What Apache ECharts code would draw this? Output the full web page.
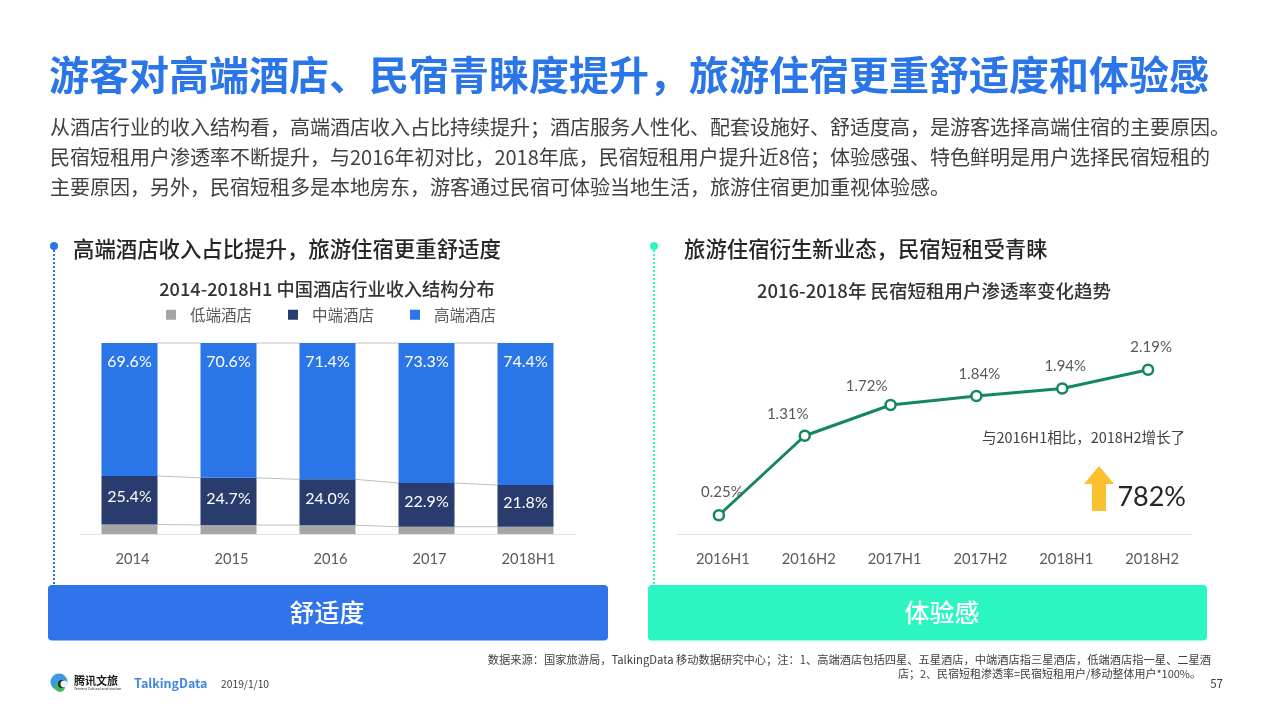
<!DOCTYPE html>
<html>
<head>
<meta charset="utf-8">
<style>
  html, body { margin: 0; padding: 0; background: #fff; }
  #main { width: 1268px; height: 714px; }
</style>
<script src="https://cdn.jsdelivr.net/npm/echarts@6/dist/echarts.min.js"></script>
</head>
<body>
<div id="main"></div>
<script>
// left chart
const years = ['2014', '2015', '2016', '2017', '2018H1'];
const lowShare = [5.0, 4.7, 4.6, 3.8, 3.8];
const midShare = [25.4, 24.7, 24.0, 22.9, 21.8];
const highShare = [69.6, 70.6, 71.4, 73.3, 74.4];
// right chart
const halves = ['2016H1', '2016H2', '2017H1', '2017H2', '2018H1', '2018H2'];
const penetration = [0.25, 1.31, 1.72, 1.84, 1.94, 2.19];
const labelNudge = [[3, 1], [-17, 2], [-24, 5], [3, 2], [3, 1], [3, 1]];

const FONT = '"Noto Sans CJK SC", sans-serif';
const LABEL_FONT = 'Lato, "Noto Sans CJK SC", sans-serif';
const BLUE = '#2A75E8';
const NAVY = '#2A3C6E';
const GREY = '#A6A6A6';
const GREEN = '#13875F';
const MINT = '#2BF5C0';
const BAR_W = 56;

function txt(x, y, text, size, color, weight, align, family) {
  return {
    type: 'text',
    style: {
      x: x, y: y, text: text, fill: color,
      font: (weight || 400) + ' ' + size + 'px ' + (family || FONT),
      textAlign: align || 'left', textVerticalAlign: 'middle'
    }
  };
}

function vline(x, y1, y2, color) {
  return {
    type: 'group',
    children: [
      { type: 'line', shape: { x1: x, y1: y1, x2: x, y2: y2 }, style: { stroke: color, lineWidth: 2, lineDash: [2, 2] } },
      { type: 'circle', shape: { cx: x, cy: y1, r: 4 }, style: { fill: color } }
    ]
  };
}

function box(x, w, color) {
  return { type: 'rect', shape: { x: x, y: 585, width: w, height: 55.5, r: 4 }, style: { fill: color } };
}

// thin lines joining the bar segments
function connector(tops) {
  return {
    type: 'custom',
    xAxisIndex: 0,
    yAxisIndex: 0,
    silent: true,
    z: 1,
    data: tops.map(function (v, i) { return [i, v]; }),
    renderItem: function (params, api) {
      const i = params.dataIndex;
      if (i >= tops.length - 1) return null;
      const a = api.coord([i, tops[i]]);
      const b = api.coord([i + 1, tops[i + 1]]);
      return {
        type: 'line',
        shape: { x1: a[0] + BAR_W / 2, y1: a[1], x2: b[0] - BAR_W / 2, y2: b[1] },
        style: { stroke: '#BFBFBF', lineWidth: 1 }
      };
    }
  };
}

function pct(p) {
  return p.value.toFixed(1) + '%';
}

const lowTops = lowShare.slice();
const midTops = lowShare.map(function (v, i) { return v + midShare[i]; });
const allTops = years.map(function () { return 100; });

const chart = echarts.init(document.getElementById('main'));
chart.setOption({
  animation: false,
  backgroundColor: '#fff',
  textStyle: { fontFamily: FONT },
  legend: {
    data: ['低端酒店', '中端酒店', '高端酒店'],
    left: 161,
    top: 302,
    itemWidth: 10,
    itemHeight: 10,
    itemGap: 36,
    icon: 'rect',
    textStyle: { fontSize: 15.5, color: '#595959', fontFamily: FONT, padding: [0, 0, 0, 9] }
  },
  grid: [
    { left: 80, right: 1268 - 575, top: 343, height: 191 },
    { left: 676, right: 1268 - 1191, top: 346.5, height: 187.5 }
  ],
  xAxis: [
    {
      type: 'category', gridIndex: 0, data: years,
      axisTick: { show: false },
      axisLine: { lineStyle: { color: '#E3E3E3' } },
      axisLabel: { color: '#595959', fontSize: 14.7, margin: 18, fontFamily: LABEL_FONT, padding: [0, 0, 0, 6] }
    },
    {
      type: 'category', gridIndex: 1, data: halves,
      axisTick: { show: false },
      axisLine: { lineStyle: { color: '#E3E3E3' } },
      axisLabel: { color: '#595959', fontSize: 14.7, margin: 18, fontFamily: LABEL_FONT, padding: [0, 0, 0, 8] }
    }
  ],
  yAxis: [
    { type: 'value', gridIndex: 0, min: 0, max: 100, show: false },
    { type: 'value', gridIndex: 1, min: 0, max: 2.5, show: false }
  ],
  series: [
    { name: '低端酒店', type: 'bar', stack: 'share', barWidth: BAR_W, data: lowShare, itemStyle: { color: GREY } },
    {
      name: '中端酒店', type: 'bar', stack: 'share', barWidth: BAR_W, data: midShare, itemStyle: { color: NAVY },
      label: { show: true, position: 'inside', offset: [0, -3], color: '#fff', fontSize: 16, fontFamily: LABEL_FONT, formatter: pct }
    },
    {
      name: '高端酒店', type: 'bar', stack: 'share', barWidth: BAR_W, data: highShare, itemStyle: { color: BLUE },
      label: { show: true, position: 'insideTop', distance: 11, color: '#fff', fontSize: 16, fontFamily: LABEL_FONT, formatter: pct }
    },
    connector(lowTops),
    connector(midTops),
    connector(allTops),
    {
      type: 'line', xAxisIndex: 1, yAxisIndex: 1, data: penetration.map(function (v, i) {
        return { value: v, label: { offset: labelNudge[i] } };
      }),
      symbol: 'circle', symbolSize: 10,
      lineStyle: { color: GREEN, width: 3 },
      itemStyle: { color: '#fff', borderColor: GREEN, borderWidth: 2.5 },
      label: { show: true, position: 'top', distance: 10, color: '#595959', fontSize: 15, fontFamily: LABEL_FONT, formatter: '{c}%' }
    }
  ],
  graphic: [
    txt(49, 75, '游客对高端酒店、民宿青睐度提升，旅游住宿更重舒适度和体验感', 40, BLUE, 700),
    txt(50, 127, '从酒店行业的收入结构看，高端酒店收入占比持续提升；酒店服务人性化、配套设施好、舒适度高，是游客选择高端住宿的主要原因。', 20, '#404040'),
    txt(50, 157, '民宿短租用户渗透率不断提升，与2016年初对比，2018年底，民宿短租用户提升近8倍；体验感强、特色鲜明是用户选择民宿短租的', 20, '#404040'),
    txt(50, 187, '主要原因，另外，民宿短租多是本地房东，游客通过民宿可体验当地生活，旅游住宿更加重视体验感。', 20, '#404040'),
    vline(54, 246, 585, BLUE),
    vline(654, 246, 585, MINT),
    txt(73, 249, '高端酒店收入占比提升，旅游住宿更重舒适度', 21.4, '#262626', 500),
    txt(684, 249, '旅游住宿衍生新业态，民宿短租受青睐', 21.4, '#262626', 500),
    txt(327, 289, '2014-2018H1 中国酒店行业收入结构分布', 18.2, '#333333', 500, 'center'),
    txt(934, 291, '2016-2018年 民宿短租用户渗透率变化趋势', 18.5, '#333333', 500, 'center'),
    txt(1185, 437, '与2016H1相比，2018H2增长了', 14.5, '#404040', 400, 'right'),
    txt(1186, 497, '782%', 27, '#262626', 400, 'right', LABEL_FONT),
    {
      type: 'polygon',
      shape: { points: [[1099, 466], [1114, 484], [1106, 484], [1106, 511], [1092, 511], [1092, 484], [1084, 484]] },
      style: { fill: '#FBC02D' }
    },
    box(48, 560, '#2F74EA'),
    box(648, 559, MINT),
    txt(327, 612, '舒适度', 25, '#FFFFFF', 500, 'center'),
    txt(942, 612, '体验感', 25, '#FFFFFF', 500, 'center'),
    txt(1211, 660, '数据来源：国家旅游局，TalkingData 移动数据研究中心；注：1、高端酒店包括四星、五星酒店，中端酒店指三星酒店，低端酒店指一星、二星酒', 11.25, '#404040', 400, 'right'),
    txt(1201, 674, '店；2、民宿短租渗透率=民宿短租用户/移动整体用户*100%。', 11, '#404040', 400, 'right'),
    txt(1223, 684, '57', 11.5, '#404040', 400, 'right'),
    { type: 'circle', shape: { cx: 59, cy: 682, r: 8.5 }, style: { fill: '#3C9BE0' } },
    { type: 'circle', shape: { cx: 60, cy: 687, r: 5 }, style: { fill: '#3DBB5A' } },
    { type: 'circle', shape: { cx: 62, cy: 684, r: 4 }, style: { fill: '#1A2A2A' } },
    { type: 'circle', shape: { cx: 64, cy: 684, r: 3.5 }, style: { fill: '#F2F2F2' } },
    txt(74, 681, '腾讯文旅', 11, '#1A1A1A', 700),
    txt(74, 689, 'Tencent Cultural and tourism', 3.5, '#1A1A1A'),
    txt(134, 683, 'TalkingData', 12.5, '#3F87E0', 700),
    txt(221, 684, '2019/1/10', 10.3, '#404040')
  ]
});
</script>
</body>
</html>
